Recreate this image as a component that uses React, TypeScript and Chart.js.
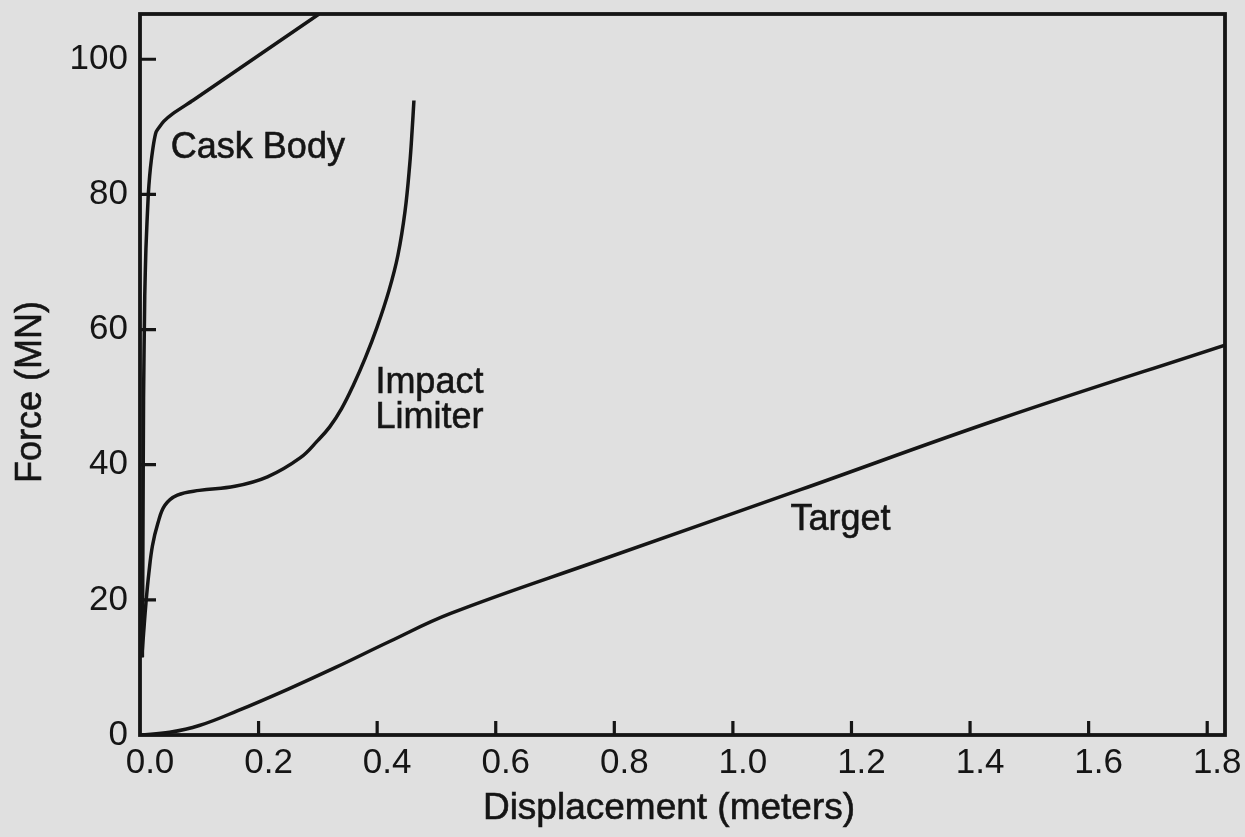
import React, { useEffect, useRef } from 'react';
import { Chart, registerables } from 'chart.js';

Chart.register(...registerables);

// ---- data ----
const xTicks = [0, 0.2, 0.4, 0.6, 0.8, 1.0, 1.2, 1.4, 1.6, 1.8];
const yTicks = [0, 20, 40, 60, 80, 100];

const caskX = [0.004, 0.005, 0.006, 0.008, 0.010, 0.014, 0.019, 0.027, 0.040, 0.056, 0.089, 0.302];
const caskY = [11.5, 30, 50, 65, 72, 80, 85, 89.2, 90.8, 92.0, 93.9, 106.7];

const limiterX = [0.003, 0.006, 0.010, 0.015, 0.021, 0.030, 0.042, 0.063, 0.100, 0.160, 0.215, 0.270, 0.300, 0.320, 0.340, 0.360, 0.380, 0.400, 0.420, 0.435, 0.447, 0.455, 0.459, 0.462];
const limiterY = [11.5, 15.0, 19.5, 24.0, 28.0, 31.3, 34.0, 35.5, 36.2, 36.8, 38.2, 41.0, 43.6, 45.6, 48.3, 51.8, 55.8, 60.4, 65.8, 71.0, 77.5, 84.5, 89.5, 93.9];

const targetX = [0, 0.05, 0.10, 0.165, 0.25, 0.33, 0.42, 0.524, 0.777, 1.114, 1.451, 1.83];
const targetY = [0, 0.4, 1.4, 3.6, 6.8, 10.0, 13.8, 18.0, 25.9, 36.3, 46.8, 57.7];

const seriesNames = ['Cask Body', 'Impact Limiter', 'Target'];

// curve labels: [text, x value, y value] (anchor = left baseline)
const curveLabels: [string, number, number][] = [
  ['Cask Body', 0.052, 85.4],
  ['Impact', 0.397, 50.6],
  ['Limiter', 0.397, 45.4],
  ['Target', 1.097, 30.3],
];

const xTitle = 'Displacement (meters)';
const yTitle = 'Force (MN)';

const FONT = "'Liberation Sans', Arial, Helvetica, sans-serif";
const INK = '#151515';
const BG = '#e0e0e0';

function pts(xs: number[], ys: number[]) {
  return xs.map((x, i) => ({ x, y: ys[i] }));
}

function heavyText(ctx: CanvasRenderingContext2D, t: string, x: number, y: number) {
  ctx.fillText(t, x, y);
  ctx.strokeText(t, x, y);
}

const framePlugin = {
  id: 'frame',
  beforeDraw(chart: any) {
    const { ctx, width, height } = chart;
    ctx.save();
    ctx.fillStyle = BG;
    ctx.fillRect(0, 0, width, height);
    ctx.restore();
  },
  afterDraw(chart: any) {
    const { ctx, chartArea: a, scales } = chart;
    const xs = scales.x;
    const ys = scales.y;
    ctx.save();
    ctx.strokeStyle = INK;
    ctx.lineWidth = 3.8;
    ctx.lineCap = 'butt';
    ctx.strokeRect(a.left, a.top, a.right - a.left, a.bottom - a.top);
    ctx.lineWidth = 3.2;
    ctx.beginPath();
    xTicks.forEach((v) => {
      if (v === 0) return;
      const p = xs.getPixelForValue(v);
      ctx.moveTo(p, a.bottom);
      ctx.lineTo(p, a.bottom - 14);
    });
    yTicks.forEach((v) => {
      if (v === 0) return;
      const p = ys.getPixelForValue(v);
      ctx.moveTo(a.left, p);
      ctx.lineTo(a.left + 16, p);
    });
    ctx.stroke();

    // curve labels
    ctx.fillStyle = INK;
    ctx.lineWidth = 0.6;
    ctx.font = `36px ${FONT}`;
    ctx.textAlign = 'left';
    ctx.textBaseline = 'alphabetic';
    curveLabels.forEach(([t, x, y]) => {
      heavyText(ctx, t, xs.getPixelForValue(x), ys.getPixelForValue(y));
    });

    // axis titles
    ctx.font = `37px ${FONT}`;
    ctx.textAlign = 'center';
    ctx.textBaseline = 'middle';
    heavyText(ctx, xTitle, 669, 809);
    ctx.font = `36px ${FONT}`;
    ctx.translate(31, 392);
    ctx.rotate(-Math.PI / 2);
    heavyText(ctx, yTitle, 0, 0);
    ctx.restore();
  },
};

export default function App() {
  const ref = useRef<HTMLCanvasElement | null>(null);

  useEffect(() => {
    if (!ref.current) return;
    const lineStyle = {
      showLine: true,
      borderColor: INK,
      backgroundColor: INK,
      borderWidth: 3.5,
      pointRadius: 0,
      fill: false,
    };
    const chart = new Chart(ref.current, {
      type: 'scatter',
      data: {
        datasets: [
          { label: seriesNames[0], data: pts(caskX, caskY), ...lineStyle, tension: 0.15 },
          { label: seriesNames[1], data: pts(limiterX, limiterY), ...lineStyle, tension: 0.4 },
          { label: seriesNames[2], data: pts(targetX, targetY), ...lineStyle, tension: 0.4 },
        ],
      },
      options: {
        responsive: false,
        animation: false,
        layout: { padding: { top: 14, right: 20, left: 0, bottom: 0 } },
        plugins: {
          legend: { display: false },
          tooltip: { enabled: false },
          title: { display: false },
        },
        scales: {
          x: {
            type: 'linear',
            min: 0,
            max: 1.83,
            grid: { display: false, drawTicks: false },
            border: { display: false },
            afterBuildTicks: (s: any) => {
              s.ticks = xTicks.map((v) => ({ value: v }));
            },
            afterFit: (s: any) => {
              s.height = 102;
              s.paddingLeft = 0;
              s.paddingRight = 0;
            },
            ticks: {
              color: INK,
              font: { family: FONT, size: 35 },
              padding: 7,
              labelOffset: 10,
              maxRotation: 0,
              autoSkip: false,
              callback: (v: any) => Number(v).toFixed(1),
            },
          },
          y: {
            type: 'linear',
            min: 0,
            max: 106.7,
            grid: { display: false, drawTicks: false },
            border: { display: false },
            afterBuildTicks: (s: any) => {
              s.ticks = yTicks.map((v) => ({ value: v }));
            },
            afterFit: (s: any) => {
              s.width = 140;
              s.paddingTop = 0;
              s.paddingBottom = 0;
            },
            ticks: {
              color: INK,
              font: { family: FONT, size: 35 },
              padding: 12,
              autoSkip: false,
              callback: (v: any) => String(v),
            },
          },
        },
      },
      plugins: [framePlugin],
    });
    return () => chart.destroy();
  }, []);

  return (
    <div style={{ position: 'absolute', left: 0, top: 0, width: 1245, height: 837, background: BG }}>
      <canvas ref={ref} width={1245} height={837} style={{ display: 'block', width: 1245, height: 837 }} />
    </div>
  );
}
